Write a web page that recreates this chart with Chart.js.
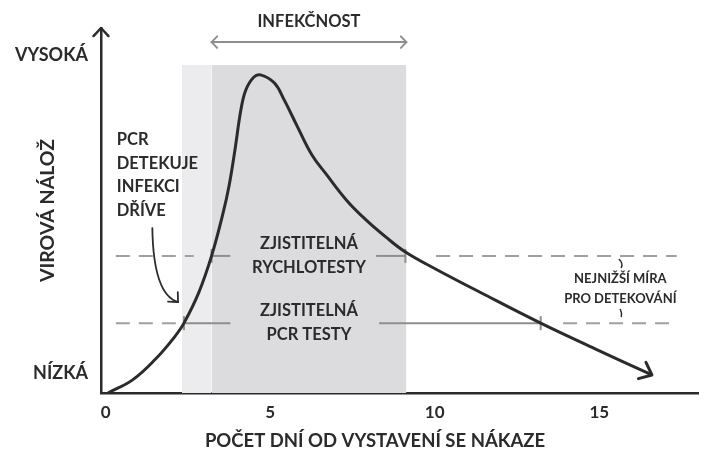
<!DOCTYPE html>
<html>
<head>
<meta charset="utf-8">
<script src="https://cdn.jsdelivr.net/npm/chart.js@4.4.1/dist/chart.umd.min.js"></script>
<style>
    html, body { margin: 0; padding: 0; background: #fff; }
    #wrap { width: 707px; height: 457px; }
</style>
</head>
<body>
<div id="wrap"><canvas id="viral-load" width="707" height="457"></canvas></div>
<script>
// viral load curve (days since exposure -> relative load, 0 = low, 100 = high)
const dayValues = [0.07, 0.82, 1.54, 2.08, 2.38, 2.83, 3.22, 3.57, 3.75, 3.93, 4.11, 4.26, 4.50, 4.71, 5.13, 5.43, 5.82, 6.27, 6.72, 7.32, 7.92, 8.51, 9.11, 10.01, 11.42, 13.22, 14.89, 16.6];
const loadValues = [0, 4.0, 10.6, 16.9, 21.3, 30.6, 41.8, 54.9, 63.1, 74.1, 86.3, 92.4, 96.3, 97.0, 94.5, 89.3, 81.4, 72.6, 66.5, 58.8, 52.7, 47.6, 43.0, 37.9, 30.5, 21.3, 13.4, 5.5];

const xTickValues = [0, 5, 10, 15];
const xTickLabels = ['0', '5', '10', '15'];
const yTickValues = [6, 103];
const yTickLabels = ['NÍZKÁ', 'VYSOKÁ'];

// shaded periods
const earlyBand = [2.32, 3.22];
const infectiousBand = [3.22, 9.14];
const bandTop = 100;

// detection thresholds
const rapidLevel = 41.8;
const pcrLevel = 21.3;
const rapidDashed = [[0.31, 2.68], [10.04, 17.35]];
const rapidSolid = [[3.22, 3.79], [8.22, 9.11]];
const pcrDashed = [[0.31, 2.17], [13.9, 17.35]];
const pcrSolid = [[2.38, 3.79], [8.31, 13.22]];

const FONT = 'Lato, "DejaVu Sans", sans-serif';
const INK = '#2b2b2b';
const GUIDE = '#8e8e8e';

const segment = (range, level, extra) => Object.assign({
    type: 'line',
    data: [{ x: range[0], y: level }, { x: range[1], y: level }],
    borderColor: GUIDE,
    borderWidth: 2,
    pointRadius: 0,
    fill: false,
    order: 5
}, extra);

const band = (range, color) => ({
    type: 'line',
    data: [{ x: range[0], y: bandTop }, { x: range[1], y: bandTop }],
    borderWidth: 0,
    pointRadius: 0,
    backgroundColor: color,
    fill: 'origin',
    order: 10
});

const tickStyle = (radii) => ({
    pointStyle: 'line',
    rotation: 90,
    pointRadius: radii,
    pointBorderColor: GUIDE,
    pointBorderWidth: 2
});

const chevron = (c, x, y, angle, len, spread) => {
    c.beginPath();
    c.moveTo(x - len * Math.cos(angle - spread), y - len * Math.sin(angle - spread));
    c.lineTo(x, y);
    c.lineTo(x - len * Math.cos(angle + spread), y - len * Math.sin(angle + spread));
    c.stroke();
};

const text = (c, str, x, y, size, align) => {
    c.font = `bold ${size}px ${FONT}`;
    c.textAlign = align || 'center';
    c.textBaseline = 'middle';
    c.fillStyle = INK;
    c.fillText(str, x, y);
};

const annotations = {
    id: 'annotations',
    afterDraw(chart) {
        const c = chart.ctx;
        const xs = chart.scales.x;
        const ys = chart.scales.y;
        const px = v => xs.getPixelForValue(v);
        const py = v => ys.getPixelForValue(v);
        const area = chart.chartArea;
        c.save();
        c.lineCap = 'round';
        c.lineJoin = 'round';

        // axis arrowhead
        c.strokeStyle = INK;
        c.lineWidth = 2.5;
        chevron(c, area.left, area.top, -Math.PI / 2, 11, 0.75);

        // curve end arrow
        const n = dayValues.length;
        const ex = px(dayValues[n - 1]), ey = py(loadValues[n - 1]);
        const ang = Math.atan2(ey - py(loadValues[n - 2]), ex - px(dayValues[n - 2]));
        c.lineWidth = 3;
        chevron(c, ex, ey, ang, 14, 0.7);

        // infectious period arrow
        const ia = px(infectiousBand[0]), ib = px(infectiousBand[1]), iy = py(107);
        c.strokeStyle = GUIDE;
        c.lineWidth = 2;
        c.beginPath();
        c.moveTo(ia, iy);
        c.lineTo(ib, iy);
        c.stroke();
        chevron(c, ia, iy, Math.PI, 8, 0.8);
        chevron(c, ib, iy, 0, 8, 0.8);
        text(c, 'INFEKČNOST', (ia + ib) / 2, iy - 20, 16.5);

        // threshold labels
        const mid = (ia + ib) / 2;
        text(c, 'ZJISTITELNÁ', mid, py(rapidLevel) - 12, 16.5);
        text(c, 'RYCHLOTESTY', mid, py(rapidLevel) + 12, 16.5);
        text(c, 'ZJISTITELNÁ', mid, py(pcrLevel) - 12, 16.5);
        text(c, 'PCR TESTY', mid, py(pcrLevel) + 12, 16.5);

        const nx = px(15.64), ny = (py(rapidLevel) + py(pcrLevel)) / 2;
        text(c, 'NEJNIŽŠÍ MÍRA', nx, ny - 11, 13);
        text(c, 'PRO DETEKOVÁNÍ', nx, ny + 9, 13);
        c.strokeStyle = INK;
        c.lineWidth = 1.5;
        c.beginPath();
        c.moveTo(nx - 1, ny - 30);
        c.quadraticCurveTo(nx + 3, ny - 26, nx + 1, ny - 22);
        c.moveTo(nx, ny + 20);
        c.quadraticCurveTo(nx + 2, ny + 24, nx + 1, ny + 27);
        c.stroke();

        // PCR detects earlier note
        const lx = px(0.34);
        ['PCR', 'DETEKUJE', 'INFEKCI', 'DŘÍVE'].forEach((s, i) => {
            text(c, s, lx, py(77.1) + i * 23.5, 16.5, 'left');
        });
        const sx = px(1.42), sy = py(50.3), tx = px(2.2), ty = py(27.7);
        c.lineWidth = 1.8;
        c.beginPath();
        c.moveTo(sx, sy);
        c.quadraticCurveTo(px(1.45), py(30), tx, ty);
        c.stroke();
        chevron(c, tx, ty, 0.8, 10, 0.75);

        // x axis title
        text(c, 'POČET DNÍ OD VYSTAVENÍ SE NÁKAZE', 375, 441, 18.5);

        c.restore();
    }
};

const datasets = [
    band(earlyBand, '#ececee'),
    band(infectiousBand, '#dcdcde'),
    ...rapidDashed.map(r => segment(r, rapidLevel, { borderDash: [14, 9], borderColor: '#a0a0a0' })),
    ...pcrDashed.map(r => segment(r, pcrLevel, { borderDash: [14, 9], borderColor: '#a0a0a0' })),
    segment(rapidSolid[0], rapidLevel, tickStyle([7, 0])),
    segment(rapidSolid[1], rapidLevel, tickStyle([0, 7])),
    segment(pcrSolid[0], pcrLevel, tickStyle([7, 0])),
    segment(pcrSolid[1], pcrLevel, tickStyle([0, 7])),
    {
        type: 'line',
        data: dayValues.map((d, i) => ({ x: d, y: loadValues[i] })),
        borderColor: INK,
        borderWidth: 3,
        pointRadius: 0,
        tension: 0.4,
        fill: false,
        order: 1
    }
];

new Chart(document.getElementById('viral-load').getContext('2d'), {
    type: 'line',
    data: { datasets },
    options: {
        responsive: false,
        animation: false,
        layout: { padding: { top: 28, right: 0, bottom: 0, left: 0 } },
        plugins: {
            legend: { display: false },
            tooltip: { enabled: false }
        },
        scales: {
            x: {
                type: 'linear',
                min: -0.14,
                max: 18,
                z: 1,
                grid: { display: false, drawTicks: false },
                border: { display: true, color: INK, width: 2.5 },
                afterFit: (s) => { s.height = 64; },
                afterBuildTicks: (s) => { s.ticks = xTickValues.map(v => ({ value: v })); },
                ticks: {
                    padding: 9,
                    color: INK,
                    font: { family: FONT, size: 17, weight: 'bold' },
                    callback: (v) => xTickLabels[xTickValues.indexOf(v)]
                },
                title: { display: false }
            },
            y: {
                min: 0,
                max: 111.3,
                z: 1,
                grid: { display: false, drawTicks: false },
                border: { display: true, color: INK, width: 2.5 },
                afterFit: (s) => { s.width = 101; },
                afterBuildTicks: (s) => { s.ticks = yTickValues.map(v => ({ value: v })); },
                ticks: {
                    padding: 13,
                    color: INK,
                    font: { family: FONT, size: 18, weight: 'bold' },
                    callback: (v) => yTickLabels[yTickValues.indexOf(v)]
                },
                title: {
                    display: true,
                    text: 'VIROVÁ NÁLOŽ',
                    color: INK,
                    font: { family: FONT, size: 19.5, weight: 'bold' },
                    padding: { top: 36, bottom: 0 }
                }
            }
        }
    },
    plugins: [annotations]
});
</script>
</body>
</html>
